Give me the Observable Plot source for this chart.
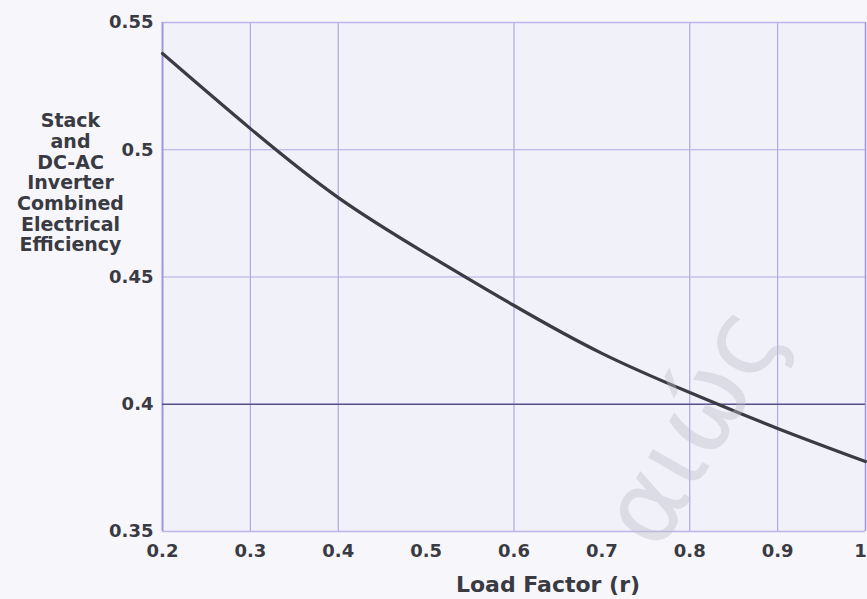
<!DOCTYPE html>
<html>
<head>
<meta charset="utf-8">
<script src="https://cdn.jsdelivr.net/npm/d3@7"></script>
<script src="https://cdn.jsdelivr.net/npm/@observablehq/plot@0.6"></script>
<style>
  html, body { margin: 0; padding: 0; background: #f6f6fb; }
  #wrap { position: relative; width: 867px; height: 599px; overflow: hidden; }
  #wm { position: absolute; left: 575px; top: 505px; font: 105px "DejaVu Sans", sans-serif;
        color: rgba(190,190,200,0.4); transform: rotate(-60deg); transform-origin: left top;
        white-space: nowrap; pointer-events: none; }
</style>
</head>
<body>
<div id="wrap"><div id="chart"></div><div id="wm">αιώς</div></div>
<script>
// Data
const loadFactor = [0.2, 0.3, 0.4, 0.5, 0.6, 0.7, 0.8, 0.9, 1.0];
const efficiency = [0.5378, 0.5083, 0.4812, 0.4592, 0.4388, 0.4200, 0.4046, 0.3905, 0.3775];
const xTicks = [0.2, 0.3, 0.4, 0.5, 0.6, 0.7, 0.8, 0.9];
const xLastTick = [1];
const yTicks = [0.35, 0.4, 0.45, 0.5, 0.55];
const xGrid = [0.3, 0.4, 0.6, 0.8, 0.9];
const yGridLight = [0.45, 0.5];
const yGridDark = [0.4];
const xLabel = "Load Factor (r)";
const yLabel = "Stack\nand\nDC-AC\nInverter\nCombined\nElectrical\nEfficiency";

const data = loadFactor.map((x, i) => ({x, y: efficiency[i]}));
const font = "DejaVu Sans, sans-serif";
const grid = "#b2a9e4";

const chart = Plot.plot({
  width: 867,
  height: 599,
  marginLeft: 162,
  marginRight: 2,
  marginTop: 22,
  marginBottom: 68,
  style: {background: "transparent", fontFamily: font, fontWeight: "bold", color: "#3a3a42"},
  x: {domain: [0.2, 1]},
  y: {domain: [0.35, 0.55]},
  marks: [
    Plot.frame({fill: "#f1f1fa", stroke: null}),
    Plot.ruleX(xGrid, {stroke: grid, strokeWidth: 1.2}),
    Plot.ruleY(yGridLight, {stroke: grid, strokeWidth: 1.2}),
    Plot.ruleY([0.55, 0.35], {stroke: "#bfb4ea", strokeWidth: 1.5}),
    Plot.ruleX([0.2], {stroke: "#a393e6", strokeWidth: 2}),
    Plot.ruleX([1], {stroke: "#a393e6", strokeWidth: 1.5}),
    Plot.ruleY(yGridDark, {stroke: "#55508a", strokeWidth: 1.5}),
    Plot.line(data, {x: "x", y: "y", curve: "natural", stroke: "#3b3a45", strokeWidth: 3.2}),
    Plot.axisX({ticks: xTicks, tickSize: 0, tickPadding: 13, fontSize: 18, label: null, tickFormat: d => String(d)}),
    Plot.axisX({ticks: xLastTick, tickSize: 0, tickPadding: 13, fontSize: 18, label: null, dx: -5, tickFormat: d => String(d)}),
    Plot.axisY({ticks: yTicks, tickSize: 0, tickPadding: 9, fontSize: 18, label: null, tickFormat: d => String(d)}),
    Plot.text([xLabel], {text: d => d, frameAnchor: "bottom", dx: 34, dy: 53, lineAnchor: "middle",
      fontSize: 22, fontWeight: "bold", fill: "#3a3a42"}),
    Plot.text([yLabel], {text: d => d, frameAnchor: "top-left", dx: -92, dy: 90, lineAnchor: "top",
      textAnchor: "middle", fontSize: 19, lineHeight: 1.09, fontWeight: "bold", fill: "#3a3a42"})
  ]
});
document.getElementById("chart").appendChild(chart);
</script>
</body>
</html>
